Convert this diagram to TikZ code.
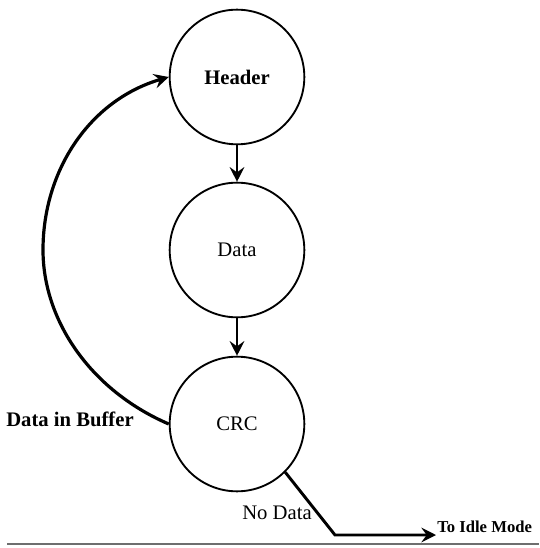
\documentclass[tikz,border=0pt]{standalone}
\usepackage{fontspec}
\setmainfont{Liberation Serif}
\usetikzlibrary{arrows.meta, positioning}

\begin{document}
\begin{tikzpicture}[x=0.75pt,y=0.75pt,yscale=-1,xscale=1,
  state/.style={draw, circle, line width=1.4pt, minimum size=101pt, inner sep=0pt, font=\fontsize{15.5}{18}\selectfont},
  flow/.style={line width=2.2pt, -{Stealth[length=11pt, width=11pt, inset=4pt]}},
  lbl/.style={inner sep=0.75pt, font=\fontsize{15.5}{18}\selectfont}]
\useasboundingbox (0,0) rectangle (539,548);

%States
\node [state] (header) at (237,77) {\textbf{Header}};
\node [state] (data) at (237,250) {Data};
\node [state] (crc) at (237,424) {CRC};

%Straight Lines
\draw [flow] (header.south) -- (data.north);
\draw [flow] (data.south) -- (crc.north);

%Curve: back to header
\draw [flow, line width=2.4pt] (crc.west) .. controls (90,390) and (43,320) .. (43,250) .. controls (43,170) and (90,100) .. (header.west);

% Text Node
\node [lbl] (buffer) at (70,419) {\textbf{Data in Buffer}};
% Text Node
\node [lbl] (nodata) at (277,513) {No Data};
% Text Node
\node [lbl, anchor=west, font=\fontsize{12.5}{15}\selectfont] (idle) at (436,527) {\textbf{To Idle Mode}};

%Exit line
\coordinate (bend) at (335,535);
\draw [flow, line join=miter] (crc.-45) -- (bend) -- (bend -| idle.west);

%Bottom rule
\draw [line width=1.5pt, color={rgb, 255:red, 110; green, 110; blue, 110}] (7,544) -- (539,544);

\end{tikzpicture}
\end{document}
